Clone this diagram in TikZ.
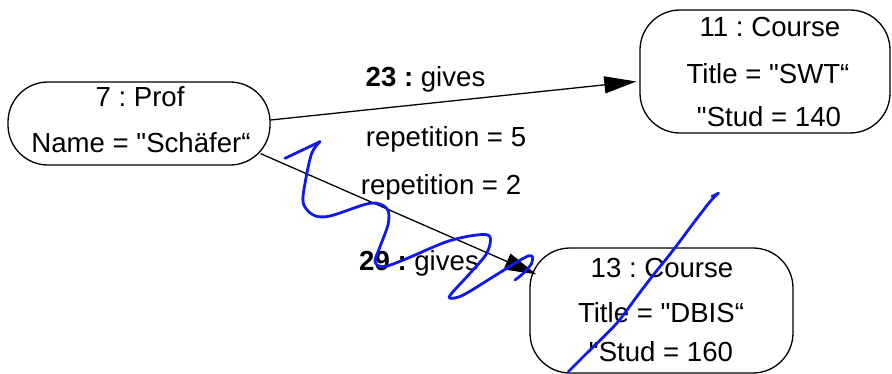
\documentclass[tikz,border=0pt]{standalone}
\usepackage{fontspec}
\setmainfont{Liberation Sans}[Ligatures=TeXOff]
\usetikzlibrary{arrows.meta,calc}
\frenchspacing
\begin{document}
\begin{tikzpicture}[x=1pt,y=-1pt,
  objbox/.style={draw,line width=1.3pt,rounded corners=40pt,inner sep=0pt},
  txt/.style={anchor=base,inner sep=0pt,font=\fontsize{27.6}{33}\selectfont},
  link/.style={line width=1.3pt,-{Triangle[length=32pt,width=17pt]}},
  ink/.style={draw={rgb,255:red,15;green,25;blue,235},line width=2.8pt,line cap=round,line join=round}]
\useasboundingbox (0,0) rectangle (892,374);

% object boxes
\node[objbox,minimum width=262pt,minimum height=83pt] (prof) at (139,123.5) {};
\node[objbox,minimum width=250pt,minimum height=123pt] (swt) at (765,71.5) {};
\node[objbox,minimum width=263pt,minimum height=125pt] (dbis) at (661.5,310.5) {};

% object contents
\node[txt] (prof1) at (140,107) {7 : Prof};
\node[txt] (prof2) at (141,153) {Name = "Schäfer“};
\node[txt] (swt1) at (770,37) {11 : Course};
\node[txt] (swt2) at (768,84) {Title = "SWT“};
\node[txt] (swt3) at (769,127) {"Stud = 140};
\node[txt] (dbis1) at (662,277) {13 : Course};
\node[txt] (dbis2) at (661,323) {Title = "DBIS“};
\node[txt] (dbis3) at (661,361) {"Stud = 160};

% links
\draw[link] ($(prof.east)+(0,-3.5)$) -- ($(swt.west)+(-3,10)$);
\draw[link] ($(prof.south east)+(-10,-12)$) -- ($(dbis.north west)+(7,27)$);

% link labels
\node[txt] (l23) at (425.5,87) {\textbf{23 :} gives};
\node[txt] (r5) at (446,147) {repetition = 5};
\node[txt] (r2) at (441,195) {repetition = 2};
\node[txt] (l29) at (419,271) {\textbf{29 :} gives};

% pen strokes on top
\draw[ink] (285,158.3) -- (320,141.7);
\draw[ink] plot[smooth,tension=0.55] coordinates {
  (320,141.7) (311.7,153.3) (305,183.3) (303.3,203.3) (313.3,215) (330,216)
  (370,203.3) (386.7,208.3) (388.3,223.3) (380,246.7) (375,261.7) (383.3,266.7)
  (403.3,260) (446.7,241.7) (476.7,235) (490,236.7) (486.7,253.3) (470,273.3)
  (451.7,293.3) (450,298.3) (463.3,295) (493.3,276.7) (523.3,258.3) (531.7,256)
  (531.7,263.3) (523.3,273.3) (515,280)};
\draw[ink] plot[smooth,tension=0.5] coordinates {
  (568.3,371.7) (586.7,353.3) (616.7,323.3) (636.7,296.7) (653.3,275)
  (673.3,250) (693.3,223.3) (710,201.7) (718.3,193.3)};
\draw[ink] (718.3,193.3) -- (712,196.5);
\end{tikzpicture}
\end{document}
